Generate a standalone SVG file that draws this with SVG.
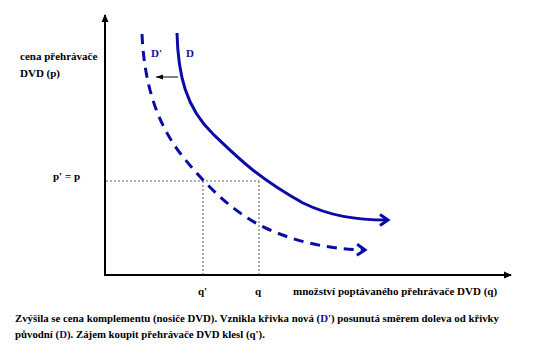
<svg xmlns="http://www.w3.org/2000/svg" width="540" height="359" viewBox="0 0 540 359">
<style>
.t{font-family:"Liberation Serif","Times New Roman",serif;font-weight:bold;font-size:11px;fill:#000}
.s{font-size:10.8px}
.b{fill:#1010A0}
.curve{fill:none;stroke:#0A0AA6;stroke-width:3;stroke-linecap:butt}
.guide{fill:none;stroke:#333;stroke-width:0.8;stroke-dasharray:2,2}
.axis{fill:none;stroke:#000;stroke-width:2}
</style>
<defs>
<marker id="ah" markerWidth="8" markerHeight="8" refX="7" refY="4" orient="auto" markerUnits="userSpaceOnUse">
<path d="M0,0.5 L8,4 L0,7.5 Z" fill="#000"/>
</marker>
<marker id="sm" markerWidth="8" markerHeight="6" refX="7" refY="3" orient="auto" markerUnits="userSpaceOnUse">
<path d="M0,0.5 L7,3 L0,5.5 Z" fill="#000"/>
</marker>
<marker id="ch" markerWidth="14" markerHeight="14" refX="11" refY="7" orient="auto" markerUnits="userSpaceOnUse">
<path d="M3,1.5 L11,7 L3,12.5" fill="none" stroke="#0A0AA6" stroke-width="3"/>
</marker>
</defs>
<rect width="540" height="359" fill="#fff"/>
<g id="connectors">
<line class="axis" x1="105" y1="275" x2="105" y2="15" marker-end="url(#ah)"/>
<line class="axis" x1="104" y1="275" x2="511" y2="275" marker-end="url(#ah)"/>
<path class="guide" d="M106,181 H259 M203,181 V275 M259,181 V275"/>
<line x1="178" y1="77" x2="156" y2="77" stroke="#000" stroke-width="1" marker-end="url(#sm)"/>
</g>
<g id="curve-D">
<path class="curve" d="M177,33 C178,75 186,108 213,134 C238,158 258,178 303,203 C330,216 355,220 388,220" marker-end="url(#ch)"/>
</g>
<g id="curve-D2">
<path class="curve" stroke-dasharray="10,7" d="M142,34 C144,80 155,120 180,153 C205,185 235,215 270,230 C300,243 330,249 365,250" marker-end="url(#ch)"/>
</g>
<g id="labels">
<text class="t" x="20" y="60">cena přehrávače</text>
<text class="t" x="20" y="77">DVD (p)</text>
<text class="t" x="53" y="180">p' = p</text>
<text class="t b" x="151" y="57">D'</text>
<text class="t b" x="186" y="57">D</text>
<text class="t" x="198" y="295">q'</text>
<text class="t" x="255" y="295">q</text>
<text class="t" x="293" y="295">množství poptávaného přehrávače DVD (q)</text>
<text class="t s" x="15" y="322">Zvýšila se cena komplementu (nosiče DVD). Vznikla křivka nová (<tspan class="b">D'</tspan>) posunutá směrem doleva od křivky</text>
<text class="t s" x="15" y="338">původní (<tspan class="b">D</tspan>). Zájem koupit přehrávače DVD klesl (q').</text>
</g>
</svg>
